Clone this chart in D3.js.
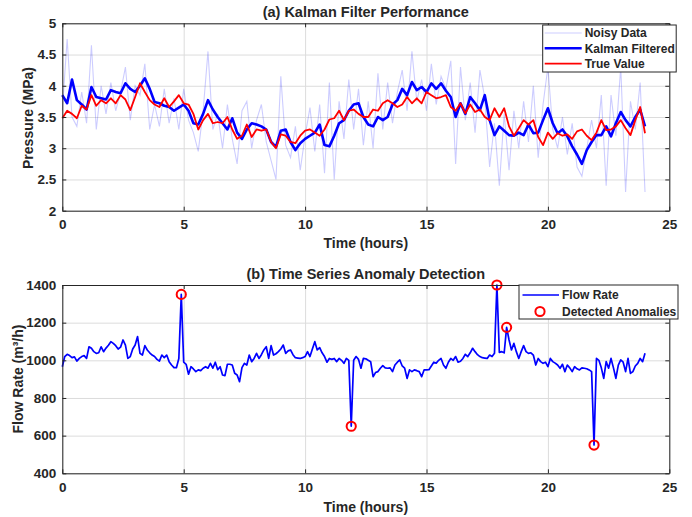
<!DOCTYPE html>
<html>
<head>
	<title>Kalman / Anomaly</title>
	<script src="https://d3js.org/d3.v7.min.js"></script>
	<style>
	body { margin: 0; background: #fff; }
	text { font-family: "Liberation Sans", Arial, sans-serif; font-weight: bold; fill: #262626; }
	</style>
</head>
<body>
<script type="text/javascript">

// ---- data (panel a: sampled every 0.2 h) ----
const timeA = d3.range(0, 24.0001, 0.2)

const noisyData = [3.6,4.75,3.5,3.35,3.9,3.4,4.65,3.3,4.0,3.55,4.05,3.6,3.9,4.3,3.45,4.0,3.85,4.35,3.3,3.7,
	3.35,3.95,3.4,3.8,3.3,3.95,3.45,3.25,2.95,3.6,4.55,3.3,3.55,3.0,3.7,3.15,2.75,3.6,3.75,3.0,
	3.45,3.7,3.1,2.8,2.5,4.15,3.05,2.85,3.35,2.65,3.2,3.65,2.95,3.7,2.6,4.05,2.5,3.75,3.15,4.1,
	3.3,3.95,3.05,3.75,3.0,4.2,3.3,4.05,3.4,3.9,4.25,3.6,4.55,3.75,4.1,3.6,4.35,3.7,4.15,3.95,
	4.4,2.75,4.3,3.45,4.05,3.25,4.25,3.8,2.7,3.4,2.4,3.55,2.65,3.6,3.0,3.75,3.1,4.0,2.85,3.7,
	4.3,3.3,3.0,3.5,2.9,3.4,2.7,2.55,3.0,3.45,3.0,3.85,2.4,3.85,3.2,4.3,2.3,3.75,3.3,4.05,2.3]

const kalmanData = [3.85,3.72,4.1,3.77,3.7,3.62,3.98,3.82,3.8,3.78,3.93,3.9,3.88,4.04,3.95,3.9,4.0,4.12,3.95,3.74,
	3.72,3.68,3.66,3.6,3.65,3.7,3.6,3.4,3.38,3.55,3.77,3.62,3.5,3.4,3.3,3.48,3.25,3.15,3.3,3.4,
	3.38,3.35,3.3,3.1,3.02,3.28,3.3,3.1,2.97,3.08,3.15,3.2,3.25,3.38,3.05,3.03,3.2,3.4,3.45,3.6,
	3.7,3.72,3.5,3.38,3.35,3.5,3.45,3.5,3.7,3.77,3.95,3.85,4.06,3.93,3.98,3.9,4.04,3.95,4.04,3.92,
	3.82,3.5,3.72,3.55,3.82,3.72,3.61,3.85,3.45,3.21,3.35,3.28,3.21,3.2,3.25,3.21,3.38,3.24,3.25,3.45,
	3.64,3.4,3.24,3.3,3.19,3.03,2.9,2.75,2.97,3.1,3.21,3.21,3.35,3.19,3.4,3.58,3.45,3.35,3.5,3.62,3.35]

const trueData = [3.48,3.6,3.55,3.48,3.68,3.62,3.85,3.68,3.77,3.72,3.8,3.72,3.85,3.78,3.61,3.82,4.04,3.9,3.77,3.7,
	3.66,3.8,3.66,3.75,3.85,3.72,3.7,3.55,3.3,3.45,3.55,3.4,3.42,3.4,3.5,3.3,3.15,3.2,3.38,3.18,
	3.3,3.28,3.3,3.1,3.0,3.22,3.2,3.1,3.08,3.2,3.28,3.3,3.25,3.2,3.3,3.46,3.48,3.6,3.45,3.6,
	3.62,3.55,3.5,3.5,3.62,3.6,3.72,3.77,3.72,3.66,3.7,3.82,3.72,3.8,3.72,3.9,3.85,3.8,3.82,3.85,
	3.66,3.6,3.72,3.56,3.7,3.58,3.62,3.5,3.45,3.64,3.5,3.64,3.35,3.2,3.32,3.45,3.38,3.45,3.18,3.05,
	3.25,3.15,3.24,3.2,3.22,3.15,3.27,3.3,3.2,3.13,3.25,3.45,3.29,3.3,3.35,3.45,3.32,3.21,3.45,3.66,3.24]

// ---- data (panel b: sampled every 0.1 h) ----
const timeB = d3.range(0, 24.0001, 0.1)

const flowRate = [966,1020,1032,1025,1014,1018,996,1010,1020,1025,1010,1072,1064,1046,1037,1040,1072,1046,1065,1080,
	1099,1090,1078,1060,1070,1108,1081,1010,1020,1060,1081,1126,1037,1028,1078,1055,1040,1028,1020,1005,
	996,1028,1014,1028,993,975,961,961,1010,1350,990,979,926,966,954,940,949,945,958,966,
	958,984,958,990,950,966,922,919,979,979,975,931,922,887,961,984,975,1028,993,1010,
	1037,1010,1030,1055,1072,1010,1078,1028,1035,1046,1060,1081,1037,1050,1055,1030,1014,1012,1010,1014,
	1020,1046,1020,1060,1099,1055,1067,1040,1020,990,1010,1005,1010,993,1010,1000,984,1010,1000,650,
	1000,1020,1005,958,1010,1008,1000,993,913,935,940,958,972,960,958,960,940,975,990,1002,
	970,958,904,949,940,949,945,940,913,949,949,950,970,990,985,1000,1010,975,958,990,
	1010,1000,1020,990,995,1010,1032,1020,1040,1064,1046,1030,1020,1014,1012,1010,1028,1020,1037,1400,
	1042,1046,1040,1175,1108,1055,1090,1046,1010,1046,1078,1046,1037,1040,1028,975,1010,993,984,990,
	966,1010,993,985,975,958,979,940,975,960,940,966,955,949,960,958,955,949,940,550,
	1010,1000,960,904,993,958,1010,960,904,975,1002,990,940,1010,931,940,970,984,1010,993,1037]

const anomalyTime = [4.9, 11.9, 17.9, 18.3, 21.9]
const anomalyValue = [1350, 650, 1400, 1175, 550]

const xTicks = [0, 5, 10, 15, 20, 25]
const yTicksA = [2, 2.5, 3, 3.5, 4, 4.5, 5]
const yTicksB = [400, 600, 800, 1000, 1200, 1400]

// ---- layout ----
const W = 692, H = 517
const left = 62.3, right = 669.3

const svg = d3.select("body").append("svg")
	.attr("width", W)
	.attr("height", H)

const x = d3.scaleLinear().domain([0, 25]).range([left, right])

// light grid behind the data
function panel(y, yTicks, top, bottom)
{
	const g = svg.append("g")

	g.append("g")
		.attr("transform", "translate(0," + bottom + ")")
		.call(d3.axisBottom(x).tickValues(xTicks).tickSize(-(bottom - top)).tickFormat(""))
		.call(s => s.select(".domain").remove())
		.selectAll("line").attr("stroke", "#dcdcdc")
	g.append("g")
		.attr("transform", "translate(" + left + ",0)")
		.call(d3.axisLeft(y).tickValues(yTicks).tickSize(-(right - left)).tickFormat(""))
		.call(s => s.select(".domain").remove())
		.selectAll("line").attr("stroke", "#dcdcdc")

	return g
}

// box with inward ticks on all four sides, labels on bottom and left
function frame(g, y, yTicks, top, bottom, yFmt)
{
	const f = g.append("g")

	const bx = f.append("g")
		.attr("transform", "translate(0," + bottom + ")")
		.call(d3.axisBottom(x).tickValues(xTicks).tickSizeInner(-4).tickSizeOuter(0).tickPadding(9))
	bx.selectAll("text").style("font-size", "13.5px")

	f.append("g")
		.attr("transform", "translate(0," + top + ")")
		.call(d3.axisTop(x).tickValues(xTicks).tickSizeInner(-4).tickSizeOuter(0).tickFormat(""))

	const ly = f.append("g")
		.attr("transform", "translate(" + left + ",0)")
		.call(d3.axisLeft(y).tickValues(yTicks).tickSizeInner(-4).tickSizeOuter(0).tickPadding(6).tickFormat(yFmt))
	ly.selectAll("text").style("font-size", "13.5px")

	f.append("g")
		.attr("transform", "translate(" + right + ",0)")
		.call(d3.axisRight(y).tickValues(yTicks).tickSizeInner(-4).tickSizeOuter(0).tickFormat(""))

	f.selectAll(".domain").attr("stroke", "#262626").attr("stroke-width", 1)
	f.selectAll(".tick line").attr("stroke", "#262626")
	f.selectAll(".tick text").attr("fill", "#262626")
		.style("font-family", "'Liberation Sans', Arial, sans-serif").style("font-weight", "bold")
}

// ---------- panel (a) ----------
const topA = 23.3, botA = 210.7
const yA = d3.scaleLinear().domain([2, 5]).range([botA, topA])
const gA = panel(yA, yTicksA, topA, botA)

const lineA = d3.line().x((d, i) => x(timeA[i])).y(d => yA(d))

gA.append("path").datum(noisyData)
	.attr("d", lineA).attr("fill", "none")
	.attr("stroke", "#0000ff").attr("stroke-opacity", 0.2).attr("stroke-width", 1.1)
gA.append("path").datum(kalmanData)
	.attr("d", lineA).attr("fill", "none")
	.attr("stroke", "#0000ff").attr("stroke-width", 2.6).attr("stroke-linejoin", "round")
gA.append("path").datum(trueData)
	.attr("d", lineA).attr("fill", "none")
	.attr("stroke", "#ff0000").attr("stroke-width", 1.8).attr("stroke-linejoin", "round")

frame(gA, yA, yTicksA, topA, botA, d3.format("~g"))

svg.append("text").attr("x", (left + right) / 2).attr("y", 17)
	.attr("text-anchor", "middle").style("font-size", "14.5px")
	.text("(a) Kalman Filter Performance")
svg.append("text").attr("x", (left + right) / 2).attr("y", 248)
	.attr("text-anchor", "middle").style("font-size", "14px")
	.text("Time (hours)")
svg.append("text").attr("transform", "translate(33,118) rotate(-90)")
	.attr("text-anchor", "middle").style("font-size", "14px")
	.text("Pressure (MPa)")

// legend (a)
const legA = svg.append("g").attr("transform", "translate(542.7,25)")
legA.append("rect").attr("width", 133.5).attr("height", 47)
	.attr("fill", "#fff").attr("stroke", "#262626").attr("stroke-width", 1)
const legItemsA = [
	{name: "Noisy Data", color: "#0000ff", op: 0.2, w: 1.1},
	{name: "Kalman Filtered", color: "#0000ff", op: 1, w: 2.6},
	{name: "True Value", color: "#ff0000", op: 1, w: 1.8}
]
legItemsA.forEach(function(d, i) {
	const yy = 8 + i * 15.3
	legA.append("line").attr("x1", 2).attr("x2", 39).attr("y1", yy).attr("y2", yy)
		.attr("stroke", d.color).attr("stroke-opacity", d.op).attr("stroke-width", d.w)
	legA.append("text").attr("x", 42).attr("y", yy + 4.3).style("font-size", "12px").text(d.name)
})

// ---------- panel (b) ----------
const topB = 285, botB = 473.3
const yB = d3.scaleLinear().domain([400, 1400]).range([botB, topB])
const gB = panel(yB, yTicksB, topB, botB)

gB.append("path").datum(flowRate)
	.attr("d", d3.line().x((d, i) => x(timeB[i])).y(d => yB(d)))
	.attr("fill", "none").attr("stroke", "#0000ff").attr("stroke-width", 1.7)
	.attr("stroke-linejoin", "round")

gB.selectAll("circle.anom").data(anomalyTime).enter().append("circle")
	.attr("class", "anom")
	.attr("cx", d => x(d))
	.attr("cy", (d, i) => yB(anomalyValue[i]))
	.attr("r", 4.6)
	.attr("fill", "none").attr("stroke", "#ff0000").attr("stroke-width", 2)

frame(gB, yB, yTicksB, topB, botB, d3.format("d"))

svg.append("text").attr("x", (left + right) / 2).attr("y", 279)
	.attr("text-anchor", "middle").style("font-size", "14.5px")
	.text("(b) Time Series Anomaly Detection")
svg.append("text").attr("x", (left + right) / 2).attr("y", 512)
	.attr("text-anchor", "middle").style("font-size", "14px")
	.text("Time (hours)")
svg.append("text").attr("transform", "translate(23,379) rotate(-90)")
	.attr("text-anchor", "middle").style("font-size", "14px")
	.text("Flow Rate (m³/h)")

// legend (b)
const legB = svg.append("g").attr("transform", "translate(519,285)")
legB.append("rect").attr("width", 159).attr("height", 34)
	.attr("fill", "#fff").attr("stroke", "#262626").attr("stroke-width", 1)
legB.append("line").attr("x1", 3.5).attr("x2", 40).attr("y1", 10).attr("y2", 10)
	.attr("stroke", "#0000ff").attr("stroke-width", 1.7)
legB.append("text").attr("x", 43).attr("y", 14.3).style("font-size", "12px").text("Flow Rate")
legB.append("circle").attr("cx", 21).attr("cy", 26.5).attr("r", 4.6)
	.attr("fill", "none").attr("stroke", "#ff0000").attr("stroke-width", 2)
legB.append("text").attr("x", 43).attr("y", 30.8).style("font-size", "12px").text("Detected Anomalies")

</script>
</body>
</html>
